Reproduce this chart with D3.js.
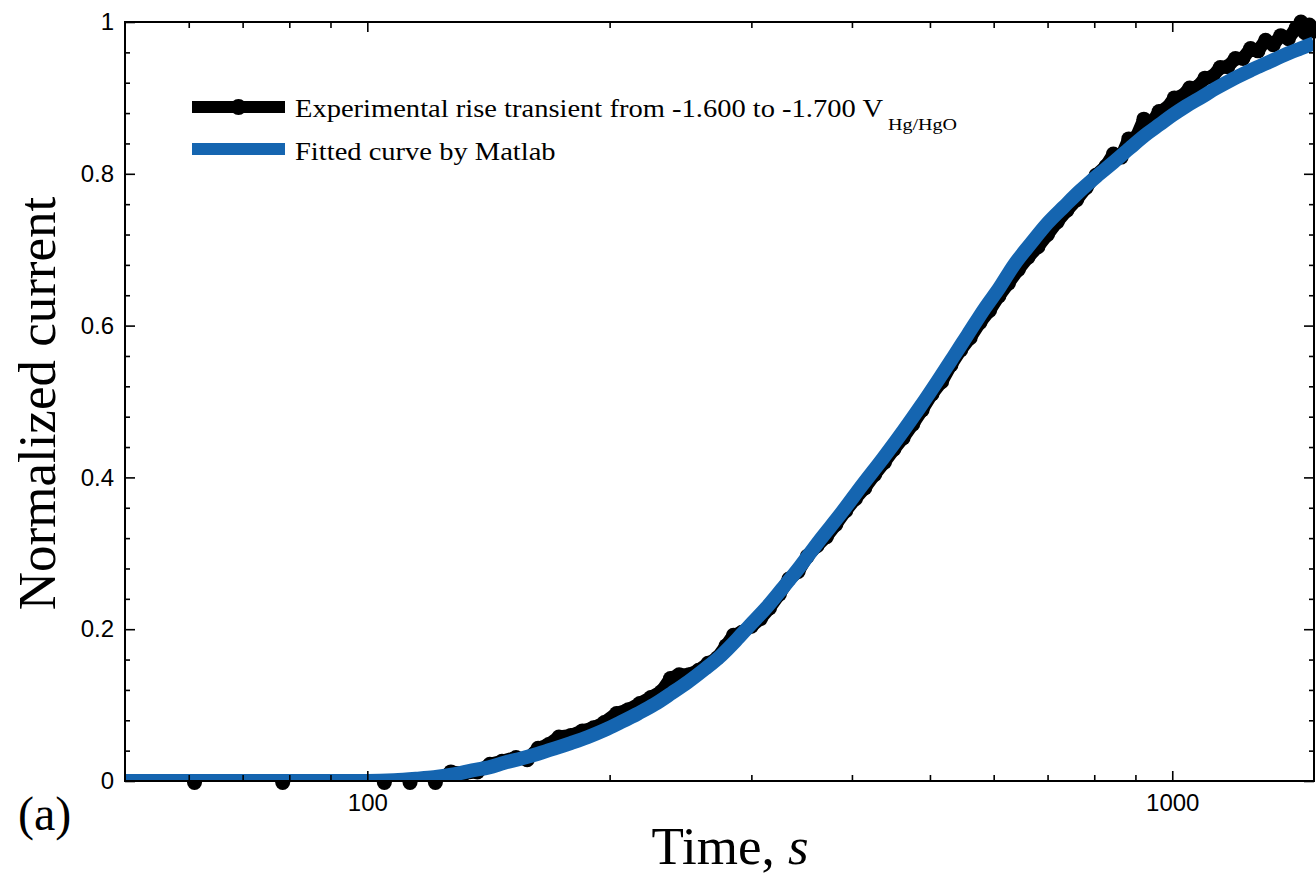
<!DOCTYPE html>
<html>
<head>
<meta charset="utf-8">
<script src="https://cdn.jsdelivr.net/npm/d3@7"></script>
<style>
  body { margin: 0; background: #fff; }
  svg { display: block; }
</style>
</head>
<body>
<svg id="chart" width="1316" height="877"></svg>
<script>
// fitted curve (Matlab)
const fitTime = [50, 70, 90, 100, 108, 115, 121, 128.5, 135, 141.6, 148, 155.7, 163, 171, 179, 188,
  197, 207, 217, 227.5, 239, 250.6, 263, 275.5, 287, 298, 313, 328, 345, 364, 388, 412,
  437, 463, 487, 511, 534, 557, 586, 610, 635, 667, 700, 734, 769, 806, 845, 886,
  931, 965, 1000, 1040, 1083, 1135, 1190, 1250, 1312, 1375, 1443, 1500];
const fitCurrent = [0, 0, 0, 0, 0.001, 0.003, 0.005, 0.009, 0.014, 0.018, 0.024, 0.030, 0.036, 0.043, 0.050, 0.058,
  0.067, 0.078, 0.089, 0.101, 0.116, 0.131, 0.148, 0.166, 0.185, 0.204, 0.228, 0.254, 0.283, 0.316, 0.353, 0.390,
  0.425, 0.461, 0.494, 0.527, 0.558, 0.588, 0.624, 0.650, 0.679, 0.708, 0.735, 0.757, 0.778, 0.797, 0.815, 0.834,
  0.853, 0.865, 0.877, 0.889, 0.900, 0.913, 0.925, 0.936, 0.946, 0.956, 0.965, 0.972];

// experimental rise transient
const expTime = [61, 78.5, 105, 113, 121.5, 127, 132, 137, 142, 147, 153, 158, 163, 168, 173,
  179, 185, 191, 197, 204, 211, 218, 225, 232, 238, 244, 251, 258, 265, 272,
  279, 285, 292, 300, 308, 316, 325, 334, 343, 352, 362, 372, 382, 393, 404,
  415, 427, 439, 451, 463, 476, 489, 503, 517, 531, 546, 561, 577, 593, 609,
  626, 644, 662, 681, 700, 720, 740, 761, 782, 804, 827, 845, 864, 883, 902,
  922, 942, 963, 984, 1006, 1028, 1051, 1074, 1098, 1122, 1147, 1172, 1198, 1224, 1251,
  1278, 1306, 1335, 1364, 1394, 1425, 1445, 1462, 1480, 1500];
const expCurrent = [-0.002, -0.002, -0.002, -0.002, -0.002, 0.012, 0.010, 0.012, 0.022, 0.026, 0.031, 0.028, 0.043, 0.048, 0.058,
  0.060, 0.066, 0.070, 0.077, 0.089, 0.094, 0.102, 0.110, 0.118, 0.135, 0.140, 0.140, 0.146, 0.155, 0.162,
  0.178, 0.192, 0.196, 0.204, 0.214, 0.228, 0.246, 0.266, 0.276, 0.296, 0.310, 0.322, 0.338, 0.356, 0.372,
  0.386, 0.404, 0.420, 0.437, 0.452, 0.470, 0.489, 0.510, 0.526, 0.548, 0.568, 0.584, 0.604, 0.620, 0.639,
  0.656, 0.674, 0.690, 0.704, 0.720, 0.737, 0.752, 0.766, 0.782, 0.798, 0.810, 0.826, 0.822, 0.846, 0.848,
  0.872, 0.866, 0.882, 0.886, 0.900, 0.902, 0.913, 0.914, 0.926, 0.928, 0.940, 0.941, 0.952, 0.952, 0.965,
  0.962, 0.976, 0.970, 0.982, 0.978, 0.992, 1.000, 0.986, 0.996, 0.988];

const xMajorTicks = [100, 1000];
const xMinorTicks = [60, 70, 80, 90, 200, 300, 400, 500, 600, 700, 800, 900];
const yMajorTicks = [0, 0.2, 0.4, 0.6, 0.8, 1];
const yMinorTicks = [0.04, 0.08, 0.12, 0.16, 0.24, 0.28, 0.32, 0.36, 0.44, 0.48, 0.52, 0.56,
  0.64, 0.68, 0.72, 0.76, 0.84, 0.88, 0.92, 0.96];

const legendLabels = ['Experimental rise transient from -1.600 to -1.700 V', 'Fitted curve by Matlab'];
const legendSub = 'Hg/HgO';

const BLUE = '#1565b0';
const sansFont = '"Liberation Sans", Arial, sans-serif';
const serifFont = '"Liberation Serif", "Times New Roman", serif';

const margin = { top: 22, right: 2, bottom: 96, left: 125 };
const width = 1316;
const height = 877;

const svg = d3.select('#chart');
svg.append('rect').attr('width', width).attr('height', height).attr('fill', '#fff');

const x = d3.scaleLog().domain([50, 1500]).range([margin.left, width - margin.right]);
const y = d3.scaleLinear().domain([0, 1]).range([height - margin.bottom, margin.top]);

svg.append('clipPath').attr('id', 'plotClip')
  .append('rect')
  .attr('x', margin.left).attr('y', margin.top)
  .attr('width', width - margin.right - margin.left)
  .attr('height', height - margin.bottom - margin.top);

const expData = expTime.map((t, i) => [t, expCurrent[i]]);
const fitData = fitTime.map((t, i) => [t, fitCurrent[i]]);

const line = d3.line().x(d => x(d[0])).y(d => y(d[1]));

// experimental: thick black line plus circle markers
svg.append('path')
  .datum(expData)
  .attr('clip-path', 'url(#plotClip)')
  .attr('fill', 'none')
  .attr('stroke', '#000')
  .attr('stroke-width', 13)
  .attr('stroke-linejoin', 'round')
  .attr('d', line);

svg.append('g')
  .selectAll('circle')
  .data(expData)
  .join('circle')
  .attr('cx', d => x(d[0]))
  .attr('cy', d => y(d[1]))
  .attr('r', 7.5)
  .attr('fill', '#000');

// fitted curve on top
svg.append('path')
  .datum(fitData)
  .attr('clip-path', 'url(#plotClip)')
  .attr('fill', 'none')
  .attr('stroke', BLUE)
  .attr('stroke-width', 14)
  .attr('d', line.curve(d3.curveMonotoneX));

// axes: ticks point inwards on all four sides
function styleAxis(g) {
  g.select('.domain').remove();
  g.selectAll('line').attr('stroke', '#000').attr('stroke-width', 1.6);
  g.selectAll('text').attr('fill', '#000').style('font-family', sansFont).style('font-size', '24px');
}
const yLabel = d => (d === 0 || d === 1) ? String(d) : d3.format('.1f')(d);

svg.append('g')
  .attr('transform', `translate(0,${y(0)})`)
  .call(d3.axisBottom(x).tickValues(xMajorTicks).tickSize(-10).tickPadding(13).tickFormat(d3.format('d')))
  .call(styleAxis);
svg.append('g')
  .attr('transform', `translate(0,${y(0)})`)
  .call(d3.axisBottom(x).tickValues(xMinorTicks).tickSize(-6).tickFormat(''))
  .call(styleAxis);
svg.append('g')
  .attr('transform', `translate(0,${y(1)})`)
  .call(d3.axisTop(x).tickValues(xMajorTicks).tickSize(-10).tickFormat(''))
  .call(styleAxis);
svg.append('g')
  .attr('transform', `translate(0,${y(1)})`)
  .call(d3.axisTop(x).tickValues(xMinorTicks).tickSize(-6).tickFormat(''))
  .call(styleAxis);

svg.append('g')
  .attr('transform', `translate(${margin.left},0)`)
  .call(d3.axisLeft(y).tickValues(yMajorTicks).tickSize(-10).tickPadding(11).tickFormat(yLabel))
  .call(styleAxis);
svg.append('g')
  .attr('transform', `translate(${margin.left},0)`)
  .call(d3.axisLeft(y).tickValues(yMinorTicks).tickSize(-5).tickFormat(''))
  .call(styleAxis);
svg.append('g')
  .attr('transform', `translate(${width - margin.right},0)`)
  .call(d3.axisRight(y).tickValues(yMajorTicks).tickSize(-10).tickFormat(''))
  .call(styleAxis);
svg.append('g')
  .attr('transform', `translate(${width - margin.right},0)`)
  .call(d3.axisRight(y).tickValues(yMinorTicks).tickSize(-5).tickFormat(''))
  .call(styleAxis);

svg.append('rect')
  .attr('x', margin.left).attr('y', margin.top)
  .attr('width', width - margin.right - margin.left)
  .attr('height', height - margin.bottom - margin.top)
  .attr('fill', 'none')
  .attr('stroke', '#000')
  .attr('stroke-width', 2);

// axis titles
svg.append('text')
  .attr('transform', `translate(55,${(y(0) + y(1)) / 2 + 2}) rotate(-90)`)
  .attr('text-anchor', 'middle')
  .style('font-family', serifFont)
  .style('font-size', '53px')
  .text('Normalized current');

const xTitle = svg.append('text')
  .attr('x', 730)
  .attr('y', 864)
  .attr('text-anchor', 'middle')
  .style('font-family', serifFont)
  .style('font-size', '53px');
xTitle.append('tspan').text('Time, ');
xTitle.append('tspan').style('font-style', 'italic').text('s');

svg.append('text')
  .attr('x', 18)
  .attr('y', 830)
  .style('font-family', serifFont)
  .style('font-size', '48px')
  .text('(a)');

// legend
const legend = svg.append('g');
const legendX0 = 192;
const legendX1 = 285;
const legendRows = [107, 149];

legend.append('line')
  .attr('x1', legendX0).attr('x2', legendX1)
  .attr('y1', legendRows[0]).attr('y2', legendRows[0])
  .attr('stroke', '#000').attr('stroke-width', 12);
legend.append('circle')
  .attr('cx', (legendX0 + legendX1) / 2).attr('cy', legendRows[0])
  .attr('r', 8).attr('fill', '#000');
legend.append('line')
  .attr('x1', legendX0).attr('x2', legendX1)
  .attr('y1', legendRows[1]).attr('y2', legendRows[1])
  .attr('stroke', BLUE).attr('stroke-width', 12);

const text1 = legend.append('text')
  .attr('x', 295).attr('y', 117)
  .style('font-family', serifFont).style('font-size', '25px')
  .text(legendLabels[0]);
const squeeze = 588 / text1.node().getComputedTextLength();
text1.attr('textLength', 588).attr('lengthAdjust', 'spacingAndGlyphs');

const text2 = legend.append('text')
  .attr('x', 295).attr('y', 160)
  .style('font-family', serifFont).style('font-size', '25px')
  .text(legendLabels[1]);
text2.attr('textLength', text2.node().getComputedTextLength() * squeeze).attr('lengthAdjust', 'spacingAndGlyphs');

legend.append('text')
  .attr('x', 888).attr('y', 130)
  .attr('textLength', 69).attr('lengthAdjust', 'spacingAndGlyphs')
  .style('font-family', serifFont).style('font-size', '17px')
  .text(legendSub);
</script>
</body>
</html>
